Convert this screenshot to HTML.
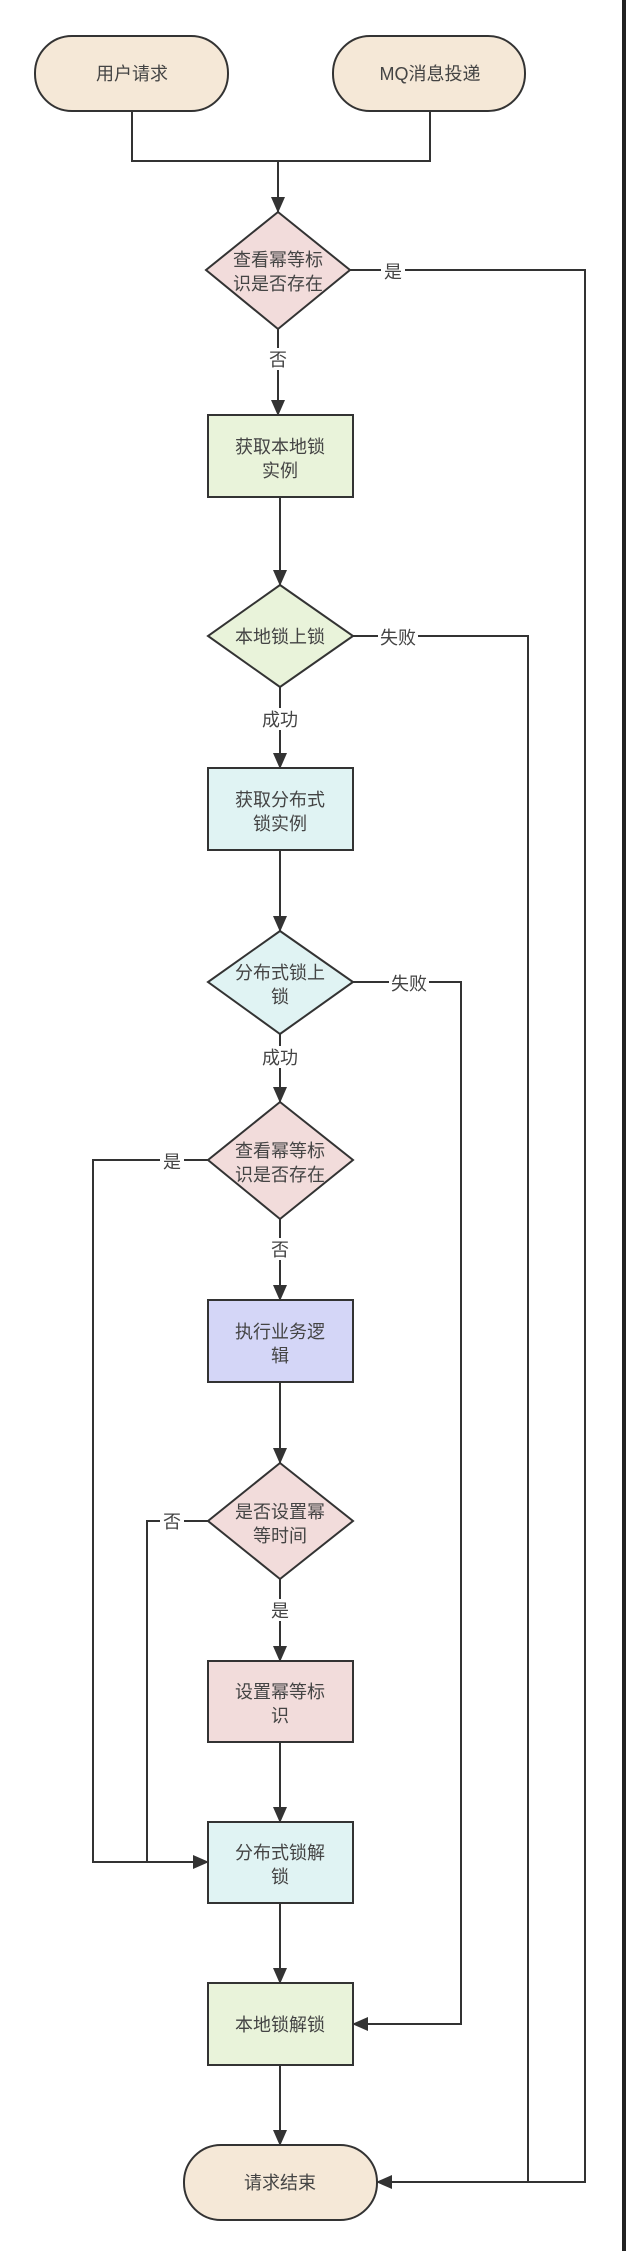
<!DOCTYPE html>
<html><head><meta charset="utf-8"><style>
html,body{margin:0;padding:0;background:#fff;}
svg{display:block;}
text{font-family:"Liberation Sans","Noto Sans CJK SC",sans-serif;font-size:18px;fill:#444;text-anchor:middle;}
.l{fill:none;stroke:#333;stroke-width:2;}
.s{stroke:#333;stroke-width:2;}
</style></head><body>
<svg width="626" height="2251" viewBox="0 0 626 2251" xmlns="http://www.w3.org/2000/svg">
<defs><marker id="a" markerWidth="10" markerHeight="10" refX="9" refY="5" orient="auto" markerUnits="userSpaceOnUse"><path d="M0,0 L10,5 L0,10 z" fill="#333"/></marker>
<marker id="b" markerWidth="16" markerHeight="14" refX="15" refY="7" orient="auto" markerUnits="userSpaceOnUse"><path d="M0,0 L16,7 L0,14 z" fill="#333"/></marker></defs>
<rect x="622" y="0" width="4" height="2251" fill="#222"/>

<!-- connectors -->
<path class="l" d="M132,111 V161 H430 V111"/>
<path class="l" d="M278,161 V212" marker-end="url(#b)"/>
<path class="l" d="M278,329 V415" marker-end="url(#b)"/>
<path class="l" d="M280,497 V585" marker-end="url(#b)"/>
<path class="l" d="M280,687 V768" marker-end="url(#b)"/>
<path class="l" d="M280,850 V931" marker-end="url(#b)"/>
<path class="l" d="M280,1034 V1102" marker-end="url(#b)"/>
<path class="l" d="M280,1219 V1300" marker-end="url(#b)"/>
<path class="l" d="M280,1382 V1463" marker-end="url(#b)"/>
<path class="l" d="M280,1579 V1661" marker-end="url(#b)"/>
<path class="l" d="M280,1742 V1822" marker-end="url(#b)"/>
<path class="l" d="M280,1903 V1983" marker-end="url(#b)"/>
<path class="l" d="M280,2065 V2145" marker-end="url(#b)"/>
<path class="l" d="M350,270 H585 V2182 H377" marker-end="url(#b)"/>
<path class="l" d="M353,636 H528 V2182"/>
<path class="l" d="M353,982 H461 V2024 H353" marker-end="url(#b)"/>
<path class="l" d="M208,1160 H93 V1862 H208" marker-end="url(#b)"/>
<path class="l" d="M208,1521 H147 V1862"/>

<!-- label backgrounds -->
<rect x="381" y="260" width="24" height="22" fill="#fff"/><text x="393" y="278">是</text>
<rect x="266" y="348" width="24" height="22" fill="#fff"/><text x="278" y="366">否</text>
<rect x="378" y="626" width="40" height="22" fill="#fff"/><text x="398" y="644">失败</text>
<rect x="260" y="708" width="40" height="22" fill="#fff"/><text x="280" y="726">成功</text>
<rect x="389" y="972" width="40" height="22" fill="#fff"/><text x="409" y="990">失败</text>
<rect x="260" y="1046" width="40" height="22" fill="#fff"/><text x="280" y="1064">成功</text>
<rect x="160" y="1150" width="24" height="22" fill="#fff"/><text x="172" y="1168">是</text>
<rect x="268" y="1238" width="24" height="22" fill="#fff"/><text x="280" y="1256">否</text>
<rect x="160" y="1510" width="24" height="22" fill="#fff"/><text x="172" y="1528">否</text>
<rect x="268" y="1599" width="24" height="22" fill="#fff"/><text x="280" y="1617">是</text>

<!-- nodes -->
<rect class="s" x="35" y="36" width="193" height="75" rx="37" fill="#f5e8d7"/><text x="132" y="80">用户请求</text>
<rect class="s" x="333" y="36" width="192" height="75" rx="37" fill="#f5e8d7"/><text x="430" y="80">MQ消息投递</text>

<polygon class="s" points="278,212 350,270 278,329 206,270" fill="#f2dcdb"/>
<text x="278" y="266">查看幂等标</text><text x="278" y="290">识是否存在</text>

<rect class="s" x="208" y="415" width="145" height="82" fill="#e9f3da"/>
<text x="280" y="453">获取本地锁</text><text x="280" y="477">实例</text>

<polygon class="s" points="280,585 353,636 280,687 208,636" fill="#e9f3da"/>
<text x="280" y="643">本地锁上锁</text>

<rect class="s" x="208" y="768" width="145" height="82" fill="#e0f3f3"/>
<text x="280" y="806">获取分布式</text><text x="280" y="830">锁实例</text>

<polygon class="s" points="280,931 353,982 280,1034 208,982" fill="#e0f3f3"/>
<text x="280" y="979">分布式锁上</text><text x="280" y="1003">锁</text>

<polygon class="s" points="280,1102 353,1160 280,1219 208,1160" fill="#f2dcdb"/>
<text x="280" y="1157">查看幂等标</text><text x="280" y="1181">识是否存在</text>

<rect class="s" x="208" y="1300" width="145" height="82" fill="#d4d6f7"/>
<text x="280" y="1338">执行业务逻</text><text x="280" y="1362">辑</text>

<polygon class="s" points="280,1463 353,1521 280,1579 208,1521" fill="#f2dcdb"/>
<text x="280" y="1518">是否设置幂</text><text x="280" y="1542">等时间</text>

<rect class="s" x="208" y="1661" width="145" height="81" fill="#f2dcdb"/>
<text x="280" y="1698">设置幂等标</text><text x="280" y="1722">识</text>

<rect class="s" x="208" y="1822" width="145" height="81" fill="#e0f3f3"/>
<text x="280" y="1859">分布式锁解</text><text x="280" y="1883">锁</text>

<rect class="s" x="208" y="1983" width="145" height="82" fill="#e9f3da"/>
<text x="280" y="2031">本地锁解锁</text>

<rect class="s" x="184" y="2145" width="193" height="75" rx="37" fill="#f5e8d7"/>
<text x="280" y="2189">请求结束</text>
</svg>
</body></html>
